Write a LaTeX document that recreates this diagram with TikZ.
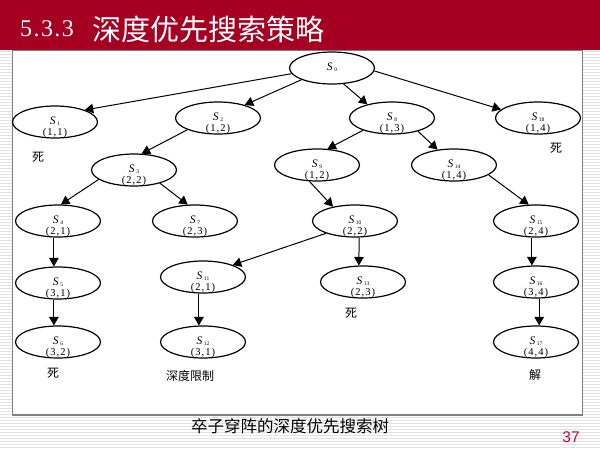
\documentclass[tikz,border=0pt]{standalone}
\usepackage{fontspec}
\setmainfont{Liberation Serif}
\newfontfamily\cjk{Noto Sans CJK SC}
\newfontfamily\sansnum{Liberation Sans}
\usetikzlibrary{shapes.geometric,arrows.meta}

\definecolor{titlered}{RGB}{165,0,33}
\definecolor{pagered}{RGB}{204,0,51}
\definecolor{stripe}{RGB}{226,226,226}
\definecolor{frame}{RGB}{128,128,128}

% state label: italic S with a small index, coordinates on the line below
\newcommand\stxt[2]{%
  \makebox[0pt]{\raisebox{-2.7pt}[0pt][0pt]{\fontsize{11.5}{11.5}\selectfont\itshape S\hspace{1.6pt}\upshape\raisebox{-1.2pt}{\fontsize{5.5}{5.5}\selectfont #1}}}%
  \makebox[0pt]{\raisebox{-13pt}[0pt][0pt]{\fontsize{10.5}{10.5}\selectfont\addfontfeature{LetterSpace=10}(#2)}}}
\newcommand\sroot[1]{%
  \makebox[0pt]{\raisebox{-2pt}[0pt][0pt]{\fontsize{11.5}{11.5}\selectfont\itshape S\hspace{1.6pt}\upshape\raisebox{-1.2pt}{\fontsize{5.5}{5.5}\selectfont #1}}}}

\begin{document}
\begin{tikzpicture}[x=1pt,y=-1pt,
  snode/.style={ellipse, draw, line width=1.2pt, fill=white,
    minimum width=85pt, minimum height=32pt, inner sep=0pt},
  link/.style={line width=1pt, -{Triangle[length=8.5pt,width=9.5pt]}},
  note/.style={font=\cjk\fontsize{12}{12}\selectfont, inner sep=0pt},
]
\useasboundingbox (0,0) rectangle (600,450);

% striped page background
\fill[white] (0,0) rectangle (600,450);
\foreach \i in {0,...,132}
  \draw[stripe, line width=1pt] (0,{51.5+3*\i}) -- (600,{51.5+3*\i});

% title bar
\fill[titlered] (0,0) rectangle (600,50);
\node[anchor=base west, text=white, inner sep=0pt,
  font=\fontsize{24}{24}\selectfont\addfontfeature{LetterSpace=6}] (num) at (20,36.5) {5.3.3};
\node[anchor=west, text=white, inner sep=0pt,
  font=\cjk\fontsize{29}{29}\selectfont] (title) at (92,29.5) {深度优先搜索策略};

% white panel
\filldraw[fill=white, draw=frame, line width=1.5pt] (12.5,50.5) rectangle (582.5,415);

% search tree states
\node[snode] (s0)  at (332,68)  {\sroot{0}};
\node[snode] (s1)  at (55,122)  {\stxt{1}{1,1}};
\node[snode] (s2)  at (218,118) {\stxt{2}{1,2}};
\node[snode] (s3)  at (134,170) {\stxt{3}{2,2}};
\node[snode] (s4)  at (58,221)  {\stxt{4}{2,1}};
\node[snode] (s5)  at (58,283)  {\stxt{5}{3,1}};
\node[snode] (s6)  at (58,342)  {\stxt{6}{3,2}};
\node[snode] (s7)  at (195,221) {\stxt{7}{2,3}};
\node[snode] (s8)  at (392,118) {\stxt{8}{1,3}};
\node[snode] (s9)  at (317,165) {\stxt{9}{1,2}};
\node[snode] (s10) at (355,221) {\stxt{10}{2,2}};
\node[snode] (s11) at (203,277) {\stxt{11}{2,1}};
\node[snode] (s12) at (203,342) {\stxt{12}{3,1}};
\node[snode] (s13) at (363,282) {\stxt{13}{2,3}};
\node[snode] (s14) at (454,165) {\stxt{14}{1,4}};
\node[snode] (s15) at (536,221) {\stxt{15}{2,4}};
\node[snode] (s16) at (536,282) {\stxt{16}{3,4}};
\node[snode] (s17) at (536,342) {\stxt{17}{4,4}};
\node[snode] (s18) at (538,118) {\stxt{18}{1,4}};

% expansion order
\draw[link] (s0.188)  -- (s1.22);
\draw[link] (s0.201)  -- (s2.26);
\draw[link] (s0.306)  -- (s8.151);
\draw[link] (s0.356)  -- (s18.167);
\draw[link] (s2.201)  -- (s3.65);
\draw[link] (s3.195)  -- (s4.80);
\draw[link] (s3.333)  -- (s7.114);
\draw[link] (s4.256)  -- (s5.104);
\draw[link] (s5.256)  -- (s6.104);
\draw[link] (s8.203)  -- (s9.57);
\draw[link] (s8.333)  -- (s14.137);
\draw[link] (s9.245)  -- (s10.147);
\draw[link] (s14.344) -- (s15.114);
\draw[link] (s10.203) -- (s11.22);
\draw[link] (s10.284) -- (s13.104);
\draw[link] (s11.256) -- (s12.104);
\draw[link] (s15.256) -- (s16.104);
\draw[link] (s16.281) -- (s17.79);

% outcome notes
\node[note] (n1)  at (38,157)  {死};
\node[note] (n18) at (556,148) {死};
\node[note] (n6)  at (53,373)  {死};
\node[note] (n12) at (190,376) {深度限制};
\node[note] (n13) at (351,313) {死};
\node[note] (n17) at (535,375) {解};

% caption and page number
\node[inner sep=0pt, font=\cjk\fontsize{16.5}{16.5}\selectfont] (cap) at (290,426) {卒子穿阵的深度优先搜索树};
\node[inner sep=0pt, text=pagered, font=\sansnum\fontsize{15.5}{15.5}\selectfont] (page) at (571,437.5) {37};
\end{tikzpicture}
\end{document}
